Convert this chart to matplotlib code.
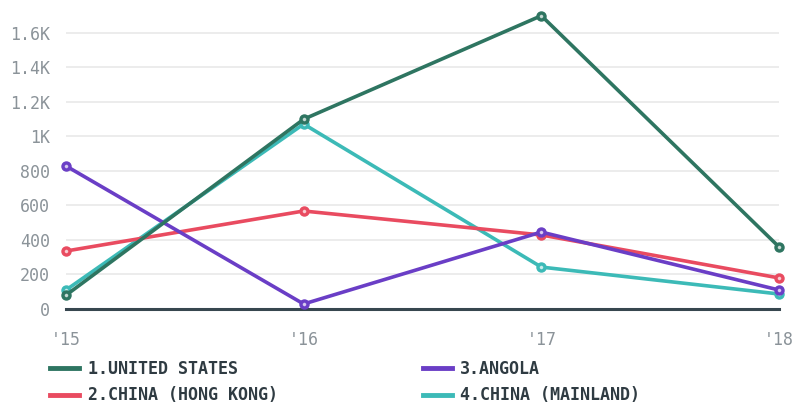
import matplotlib
matplotlib.use("Agg")
import matplotlib.pyplot as plt

years = [2015, 2016, 2017, 2018]
year_labels = ["'15", "'16", "'17", "'18"]

united_states = [80, 1100, 1700, 360]
china_hong_kong = [336, 568, 429, 180]
angola = [829, 29, 446, 110]
china_mainland = [110, 1072, 243, 87]

names = ["1.UNITED STATES", "2.CHINA (HONG KONG)", "3.ANGOLA", "4.CHINA (MAINLAND)"]
colors = ["#2e7561", "#e94b60", "#6a3ec6", "#3cbab7"]

yticks = [0, 200, 400, 600, 800, 1000, 1200, 1400, 1600]
ytick_labels = ["0", "200", "400", "600", "800", "1K", "1.2K", "1.4K", "1.6K"]

plt.rcParams['font.family'] = ['DejaVu Sans Mono']

fig = plt.figure(figsize=(7.95, 4.05), dpi=100)
ax = fig.add_axes([66/795, 1 - 309/405, (779 - 66)/795, (309 - 5)/405])

series = [united_states, china_hong_kong, angola, china_mainland]
zorders = [6, 4, 5, 3]
handles = []
for vals, c, z, n in zip(series, colors, zorders, names):
    ax.plot(years, vals, color=c, lw=2.6, marker='o', ms=6.5, mfc=c, mec=c,
            zorder=z, clip_on=False, solid_capstyle='round')
    ax.plot(years, vals, ls='none', marker='o', ms=1.6, color='white', alpha=0.6,
            zorder=z, clip_on=False)
    h, = ax.plot([], [], color=c, lw=3.5, label=n)
    handles.append(h)

ax.set_xlim(2015, 2018)
ax.set_ylim(0, 1762)
ax.set_xticks(years)
ax.set_xticklabels(year_labels)
ax.set_yticks(yticks)
ax.set_yticklabels(ytick_labels)
ax.tick_params(axis='both', length=0, labelsize=12, colors='#8b9399')
ax.tick_params(axis='x', pad=15.5)
ax.tick_params(axis='y', pad=11.5)

for y in yticks[1:]:
    ax.axhline(y, color='#ebebeb', lw=1.3, zorder=0)
ax.axhline(0, color='#37474f', lw=2.2, zorder=2, clip_on=False)

for s in ax.spines.values():
    s.set_visible(False)

leg = fig.legend(handles=handles, loc='upper left', bbox_to_anchor=(50/795, 1 - 360/405),
                 ncol=2, frameon=False, handlelength=1.75, handletextpad=0.5,
                 columnspacing=8.7, labelspacing=0.5, borderpad=0, borderaxespad=0,
                 prop={'family': 'DejaVu Sans Mono', 'weight': 'bold', 'size': 12})
for t in leg.get_texts():
    t.set_color('#2f3b42')

fig.savefig("out.png", dpi=100)
